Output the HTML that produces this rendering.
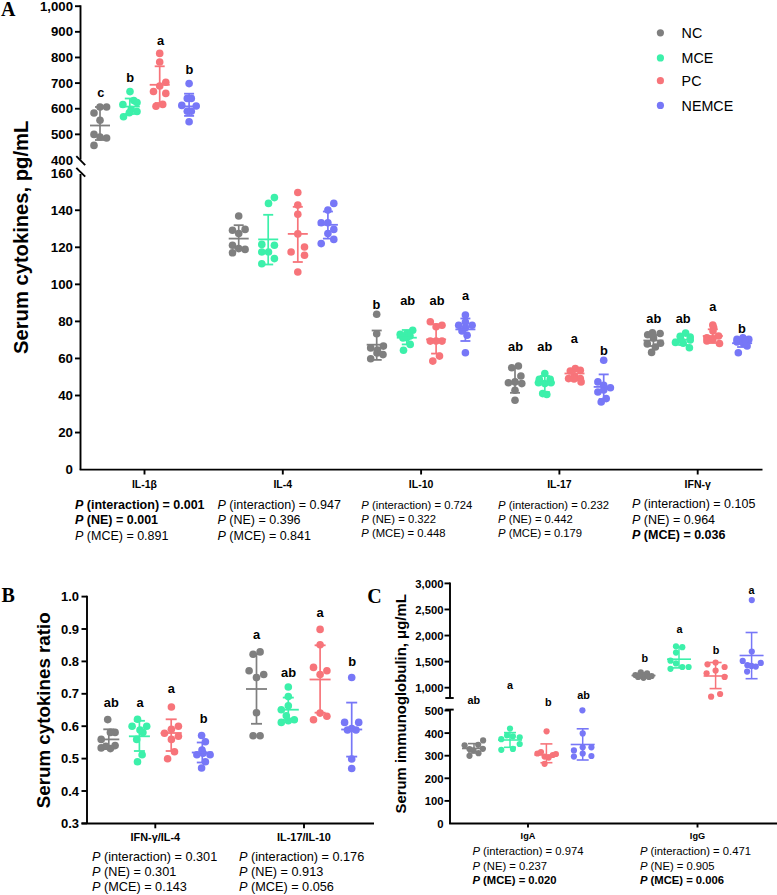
<!DOCTYPE html>
<html><head><meta charset="utf-8"><style>
html,body{margin:0;padding:0;background:#fff;width:777px;height:895px;overflow:hidden}
svg{display:block}
</style></head><body>
<svg width="777" height="895" viewBox="0 0 777 895">
<rect width="777" height="895" fill="#fff"/>
<text x="1" y="15.6" font-size="20" font-weight="bold" text-anchor="start" fill="#000" font-family='"Liberation Serif", serif' >A</text>
<line x1="80.5" y1="5.3" x2="80.5" y2="159.5" stroke="#000" stroke-width="1.9"/>
<line x1="75.0" y1="6.2" x2="80.5" y2="6.2" stroke="#000" stroke-width="1.9"/>
<text x="73.0" y="10.8" font-size="13.2" font-weight="bold" text-anchor="end" fill="#000" font-family='"Liberation Sans", sans-serif' >1,000</text>
<line x1="75.0" y1="31.83" x2="80.5" y2="31.83" stroke="#000" stroke-width="1.9"/>
<text x="73.0" y="36.43" font-size="13.2" font-weight="bold" text-anchor="end" fill="#000" font-family='"Liberation Sans", sans-serif' >900</text>
<line x1="75.0" y1="57.46" x2="80.5" y2="57.46" stroke="#000" stroke-width="1.9"/>
<text x="73.0" y="62.06" font-size="13.2" font-weight="bold" text-anchor="end" fill="#000" font-family='"Liberation Sans", sans-serif' >800</text>
<line x1="75.0" y1="83.09" x2="80.5" y2="83.09" stroke="#000" stroke-width="1.9"/>
<text x="73.0" y="87.69" font-size="13.2" font-weight="bold" text-anchor="end" fill="#000" font-family='"Liberation Sans", sans-serif' >700</text>
<line x1="75.0" y1="108.72" x2="80.5" y2="108.72" stroke="#000" stroke-width="1.9"/>
<text x="73.0" y="113.32" font-size="13.2" font-weight="bold" text-anchor="end" fill="#000" font-family='"Liberation Sans", sans-serif' >600</text>
<line x1="75.0" y1="134.35" x2="80.5" y2="134.35" stroke="#000" stroke-width="1.9"/>
<text x="73.0" y="138.95" font-size="13.2" font-weight="bold" text-anchor="end" fill="#000" font-family='"Liberation Sans", sans-serif' >500</text>
<text x="73.0" y="164.57999999999998" font-size="13.2" font-weight="bold" text-anchor="end" fill="#000" font-family='"Liberation Sans", sans-serif' >400</text>
<line x1="76.3" y1="156.2" x2="85.2" y2="165.1" stroke="#000" stroke-width="1.9"/>
<line x1="76.3" y1="167.8" x2="85.2" y2="176.7" stroke="#000" stroke-width="1.9"/>
<line x1="80.5" y1="174" x2="80.5" y2="469.8" stroke="#000" stroke-width="1.9"/>
<text x="73.0" y="474.0" font-size="13.3" font-weight="bold" text-anchor="end" fill="#000" font-family='"Liberation Sans", sans-serif' >0</text>
<line x1="75.0" y1="432.55" x2="80.5" y2="432.55" stroke="#000" stroke-width="1.9"/>
<text x="73.0" y="436.95" font-size="13.3" font-weight="bold" text-anchor="end" fill="#000" font-family='"Liberation Sans", sans-serif' >20</text>
<line x1="75.0" y1="395.5" x2="80.5" y2="395.5" stroke="#000" stroke-width="1.9"/>
<text x="73.0" y="399.9" font-size="13.3" font-weight="bold" text-anchor="end" fill="#000" font-family='"Liberation Sans", sans-serif' >40</text>
<line x1="75.0" y1="358.45000000000005" x2="80.5" y2="358.45000000000005" stroke="#000" stroke-width="1.9"/>
<text x="73.0" y="362.85" font-size="13.3" font-weight="bold" text-anchor="end" fill="#000" font-family='"Liberation Sans", sans-serif' >60</text>
<line x1="75.0" y1="321.40000000000003" x2="80.5" y2="321.40000000000003" stroke="#000" stroke-width="1.9"/>
<text x="73.0" y="325.8" font-size="13.3" font-weight="bold" text-anchor="end" fill="#000" font-family='"Liberation Sans", sans-serif' >80</text>
<line x1="75.0" y1="284.35" x2="80.5" y2="284.35" stroke="#000" stroke-width="1.9"/>
<text x="73.0" y="288.75" font-size="13.3" font-weight="bold" text-anchor="end" fill="#000" font-family='"Liberation Sans", sans-serif' >100</text>
<line x1="75.0" y1="247.3" x2="80.5" y2="247.3" stroke="#000" stroke-width="1.9"/>
<text x="73.0" y="251.70000000000002" font-size="13.3" font-weight="bold" text-anchor="end" fill="#000" font-family='"Liberation Sans", sans-serif' >120</text>
<line x1="75.0" y1="210.25" x2="80.5" y2="210.25" stroke="#000" stroke-width="1.9"/>
<text x="73.0" y="214.65" font-size="13.3" font-weight="bold" text-anchor="end" fill="#000" font-family='"Liberation Sans", sans-serif' >140</text>
<text x="73.0" y="177.60000000000005" font-size="13.3" font-weight="bold" text-anchor="end" fill="#000" font-family='"Liberation Sans", sans-serif' >160</text>
<line x1="79.65" y1="469.6" x2="762.5" y2="469.6" stroke="#000" stroke-width="1.9"/>
<text x="0" y="0" font-size="20.2" font-weight="bold" text-anchor="start" fill="#000" font-family='"Liberation Sans", sans-serif' transform="translate(27.5,354) rotate(-90)">Serum cytokines, pg/mL</text>
<line x1="144.5" y1="469" x2="144.5" y2="474.5" stroke="#000" stroke-width="1.9"/>
<text x="144.5" y="488" font-size="10.5" font-weight="bold" text-anchor="middle" fill="#000" font-family='"Liberation Sans", sans-serif' >IL-1β</text>
<line x1="282.8" y1="469" x2="282.8" y2="474.5" stroke="#000" stroke-width="1.9"/>
<text x="282.8" y="488" font-size="10.5" font-weight="bold" text-anchor="middle" fill="#000" font-family='"Liberation Sans", sans-serif' >IL-4</text>
<line x1="421.1" y1="469" x2="421.1" y2="474.5" stroke="#000" stroke-width="1.9"/>
<text x="421.1" y="488" font-size="10.5" font-weight="bold" text-anchor="middle" fill="#000" font-family='"Liberation Sans", sans-serif' >IL-10</text>
<line x1="559.4000000000001" y1="469" x2="559.4000000000001" y2="474.5" stroke="#000" stroke-width="1.9"/>
<text x="559.4000000000001" y="488" font-size="10.5" font-weight="bold" text-anchor="middle" fill="#000" font-family='"Liberation Sans", sans-serif' >IL-17</text>
<line x1="697.7" y1="469" x2="697.7" y2="474.5" stroke="#000" stroke-width="1.9"/>
<text x="697.7" y="488" font-size="10.5" font-weight="bold" text-anchor="middle" fill="#000" font-family='"Liberation Sans", sans-serif' >IFN-γ</text>
<circle cx="660.4" cy="32.8" r="3.6" fill="#7f7f7f"/>
<text x="681.6" y="38.0" font-size="14.3" font-weight="normal" text-anchor="start" fill="#000" font-family='"Liberation Sans", sans-serif' >NC</text>
<circle cx="660.4" cy="57.9" r="3.6" fill="#3cf0aa"/>
<text x="681.6" y="63.1" font-size="14.3" font-weight="normal" text-anchor="start" fill="#000" font-family='"Liberation Sans", sans-serif' >MCE</text>
<circle cx="660.4" cy="80.7" r="3.6" fill="#f7747a"/>
<text x="681.6" y="85.9" font-size="14.3" font-weight="normal" text-anchor="start" fill="#000" font-family='"Liberation Sans", sans-serif' >PC</text>
<circle cx="660.4" cy="105.4" r="3.6" fill="#7777f7"/>
<text x="681.6" y="110.60000000000001" font-size="14.3" font-weight="normal" text-anchor="start" fill="#000" font-family='"Liberation Sans", sans-serif' >NEMCE</text>
<text x="75" y="509.2" font-size="12.5" font-weight="bold" fill="#000" font-family='"Liberation Sans", sans-serif'><tspan font-style="italic">P</tspan> (interaction) = 0.001</text>
<text x="75" y="524.4" font-size="12.5" font-weight="bold" fill="#000" font-family='"Liberation Sans", sans-serif'><tspan font-style="italic">P</tspan> (NE) = 0.001</text>
<text x="75" y="539.6" font-size="12.5" font-weight="normal" fill="#000" font-family='"Liberation Sans", sans-serif'><tspan font-style="italic">P</tspan> (MCE) = 0.891</text>
<text x="217.5" y="508.8" font-size="12.5" font-weight="normal" fill="#000" font-family='"Liberation Sans", sans-serif'><tspan font-style="italic">P</tspan> (interaction) = 0.947</text>
<text x="217.5" y="524.25" font-size="12.5" font-weight="normal" fill="#000" font-family='"Liberation Sans", sans-serif'><tspan font-style="italic">P</tspan> (NE) = 0.396</text>
<text x="217.5" y="539.7" font-size="12.5" font-weight="normal" fill="#000" font-family='"Liberation Sans", sans-serif'><tspan font-style="italic">P</tspan> (MCE) = 0.841</text>
<text x="361.3" y="508.6" font-size="11.25" font-weight="normal" fill="#000" font-family='"Liberation Sans", sans-serif'><tspan font-style="italic">P</tspan> (interaction) = 0.724</text>
<text x="361.3" y="522.8000000000001" font-size="11.25" font-weight="normal" fill="#000" font-family='"Liberation Sans", sans-serif'><tspan font-style="italic">P</tspan> (NE) = 0.322</text>
<text x="361.3" y="537.0" font-size="11.25" font-weight="normal" fill="#000" font-family='"Liberation Sans", sans-serif'><tspan font-style="italic">P</tspan> (MCE) = 0.448</text>
<text x="498" y="508.6" font-size="11.25" font-weight="normal" fill="#000" font-family='"Liberation Sans", sans-serif'><tspan font-style="italic">P</tspan> (interaction) = 0.232</text>
<text x="498" y="522.8000000000001" font-size="11.25" font-weight="normal" fill="#000" font-family='"Liberation Sans", sans-serif'><tspan font-style="italic">P</tspan> (NE) = 0.442</text>
<text x="498" y="537.0" font-size="11.25" font-weight="normal" fill="#000" font-family='"Liberation Sans", sans-serif'><tspan font-style="italic">P</tspan> (MCE) = 0.179</text>
<text x="632" y="508.4" font-size="12.5" font-weight="normal" fill="#000" font-family='"Liberation Sans", sans-serif'><tspan font-style="italic">P</tspan> (interaction) = 0.105</text>
<text x="632" y="523.85" font-size="12.5" font-weight="normal" fill="#000" font-family='"Liberation Sans", sans-serif'><tspan font-style="italic">P</tspan> (NE) = 0.964</text>
<text x="632" y="539.3" font-size="12.5" font-weight="bold" fill="#000" font-family='"Liberation Sans", sans-serif'><tspan font-style="italic">P</tspan> (MCE) = 0.036</text>
<text x="1.4" y="601.5" font-size="20" font-weight="bold" text-anchor="start" fill="#000" font-family='"Liberation Serif", serif' >B</text>
<line x1="87" y1="595.7" x2="87" y2="823.8" stroke="#000" stroke-width="1.9"/>
<line x1="81.5" y1="596.6" x2="87" y2="596.6" stroke="#000" stroke-width="1.9"/>
<text x="79" y="601.2" font-size="13" font-weight="bold" text-anchor="end" fill="#000" font-family='"Liberation Sans", sans-serif' >1.0</text>
<line x1="81.5" y1="629.0" x2="87" y2="629.0" stroke="#000" stroke-width="1.9"/>
<text x="79" y="633.6" font-size="13" font-weight="bold" text-anchor="end" fill="#000" font-family='"Liberation Sans", sans-serif' >0.9</text>
<line x1="81.5" y1="661.4" x2="87" y2="661.4" stroke="#000" stroke-width="1.9"/>
<text x="79" y="666.0" font-size="13" font-weight="bold" text-anchor="end" fill="#000" font-family='"Liberation Sans", sans-serif' >0.8</text>
<line x1="81.5" y1="693.8" x2="87" y2="693.8" stroke="#000" stroke-width="1.9"/>
<text x="79" y="698.4" font-size="13" font-weight="bold" text-anchor="end" fill="#000" font-family='"Liberation Sans", sans-serif' >0.7</text>
<line x1="81.5" y1="726.2" x2="87" y2="726.2" stroke="#000" stroke-width="1.9"/>
<text x="79" y="730.8000000000001" font-size="13" font-weight="bold" text-anchor="end" fill="#000" font-family='"Liberation Sans", sans-serif' >0.6</text>
<line x1="81.5" y1="758.6" x2="87" y2="758.6" stroke="#000" stroke-width="1.9"/>
<text x="79" y="763.2" font-size="13" font-weight="bold" text-anchor="end" fill="#000" font-family='"Liberation Sans", sans-serif' >0.5</text>
<line x1="81.5" y1="791.0" x2="87" y2="791.0" stroke="#000" stroke-width="1.9"/>
<text x="79" y="795.6" font-size="13" font-weight="bold" text-anchor="end" fill="#000" font-family='"Liberation Sans", sans-serif' >0.4</text>
<line x1="81.5" y1="823.4" x2="87" y2="823.4" stroke="#000" stroke-width="1.9"/>
<text x="79" y="828.0" font-size="13" font-weight="bold" text-anchor="end" fill="#000" font-family='"Liberation Sans", sans-serif' >0.3</text>
<line x1="81.5" y1="823.5" x2="374" y2="823.5" stroke="#000" stroke-width="1.9"/>
<text x="0" y="0" font-size="18.75" font-weight="bold" text-anchor="start" fill="#000" font-family='"Liberation Sans", sans-serif' transform="translate(50.1,808.2) rotate(-90)">Serum cytokines ratio</text>
<line x1="155.3" y1="823.5" x2="155.3" y2="828.3" stroke="#000" stroke-width="1.9"/>
<text x="155.3" y="841" font-size="10.9" font-weight="bold" text-anchor="middle" fill="#000" font-family='"Liberation Sans", sans-serif' >IFN-γ/IL-4</text>
<line x1="304" y1="823.5" x2="304" y2="828.3" stroke="#000" stroke-width="1.9"/>
<text x="304" y="841" font-size="10.9" font-weight="bold" text-anchor="middle" fill="#000" font-family='"Liberation Sans", sans-serif' >IL-17/IL-10</text>
<text x="92" y="861.2" font-size="12.7" font-weight="normal" fill="#000" font-family='"Liberation Sans", sans-serif'><tspan font-style="italic">P</tspan> (interaction) = 0.301</text>
<text x="92" y="875.95" font-size="12.7" font-weight="normal" fill="#000" font-family='"Liberation Sans", sans-serif'><tspan font-style="italic">P</tspan> (NE) = 0.301</text>
<text x="92" y="890.7" font-size="12.7" font-weight="normal" fill="#000" font-family='"Liberation Sans", sans-serif'><tspan font-style="italic">P</tspan> (MCE) = 0.143</text>
<text x="239" y="861.2" font-size="12.7" font-weight="normal" fill="#000" font-family='"Liberation Sans", sans-serif'><tspan font-style="italic">P</tspan> (interaction) = 0.176</text>
<text x="239" y="875.95" font-size="12.7" font-weight="normal" fill="#000" font-family='"Liberation Sans", sans-serif'><tspan font-style="italic">P</tspan> (NE) = 0.913</text>
<text x="239" y="890.7" font-size="12.7" font-weight="normal" fill="#000" font-family='"Liberation Sans", sans-serif'><tspan font-style="italic">P</tspan> (MCE) = 0.056</text>
<text x="367.3" y="602.5" font-size="20" font-weight="bold" text-anchor="start" fill="#000" font-family='"Liberation Serif", serif' >C</text>
<line x1="450" y1="582.6" x2="450" y2="698" stroke="#000" stroke-width="1.9"/>
<line x1="445.3" y1="698" x2="453.7" y2="698" stroke="#000" stroke-width="1.9"/>
<line x1="444.5" y1="583.4" x2="450" y2="583.4" stroke="#000" stroke-width="1.9"/>
<text x="443.5" y="587.6999999999999" font-size="11.3" font-weight="bold" text-anchor="end" fill="#000" font-family='"Liberation Sans", sans-serif' >3,000</text>
<line x1="444.5" y1="609.47" x2="450" y2="609.47" stroke="#000" stroke-width="1.9"/>
<text x="443.5" y="613.77" font-size="11.3" font-weight="bold" text-anchor="end" fill="#000" font-family='"Liberation Sans", sans-serif' >2,500</text>
<line x1="444.5" y1="635.54" x2="450" y2="635.54" stroke="#000" stroke-width="1.9"/>
<text x="443.5" y="639.8399999999999" font-size="11.3" font-weight="bold" text-anchor="end" fill="#000" font-family='"Liberation Sans", sans-serif' >2,000</text>
<line x1="444.5" y1="661.61" x2="450" y2="661.61" stroke="#000" stroke-width="1.9"/>
<text x="443.5" y="665.91" font-size="11.3" font-weight="bold" text-anchor="end" fill="#000" font-family='"Liberation Sans", sans-serif' >1,500</text>
<line x1="444.5" y1="687.68" x2="450" y2="687.68" stroke="#000" stroke-width="1.9"/>
<text x="443.5" y="691.9799999999999" font-size="11.3" font-weight="bold" text-anchor="end" fill="#000" font-family='"Liberation Sans", sans-serif' >1,000</text>
<line x1="450" y1="709.6" x2="450" y2="823.9" stroke="#000" stroke-width="1.9"/>
<line x1="445.3" y1="709.6" x2="453.7" y2="709.6" stroke="#000" stroke-width="1.9"/>
<text x="443.5" y="827.9" font-size="11.3" font-weight="bold" text-anchor="end" fill="#000" font-family='"Liberation Sans", sans-serif' >0</text>
<line x1="444.5" y1="800.9" x2="450" y2="800.9" stroke="#000" stroke-width="1.9"/>
<text x="443.5" y="805.3" font-size="11.3" font-weight="bold" text-anchor="end" fill="#000" font-family='"Liberation Sans", sans-serif' >100</text>
<line x1="444.5" y1="778.3" x2="450" y2="778.3" stroke="#000" stroke-width="1.9"/>
<text x="443.5" y="782.6999999999999" font-size="11.3" font-weight="bold" text-anchor="end" fill="#000" font-family='"Liberation Sans", sans-serif' >200</text>
<line x1="444.5" y1="755.7" x2="450" y2="755.7" stroke="#000" stroke-width="1.9"/>
<text x="443.5" y="760.1" font-size="11.3" font-weight="bold" text-anchor="end" fill="#000" font-family='"Liberation Sans", sans-serif' >300</text>
<line x1="444.5" y1="733.1" x2="450" y2="733.1" stroke="#000" stroke-width="1.9"/>
<text x="443.5" y="737.5" font-size="11.3" font-weight="bold" text-anchor="end" fill="#000" font-family='"Liberation Sans", sans-serif' >400</text>
<line x1="444.5" y1="710.5" x2="450" y2="710.5" stroke="#000" stroke-width="1.9"/>
<text x="443.5" y="714.9" font-size="11.3" font-weight="bold" text-anchor="end" fill="#000" font-family='"Liberation Sans", sans-serif' >500</text>
<line x1="449.15" y1="823.5" x2="777" y2="823.5" stroke="#000" stroke-width="1.9"/>
<text x="0" y="0" font-size="14.9" font-weight="bold" text-anchor="start" fill="#000" font-family='"Liberation Sans", sans-serif' transform="translate(406.2,813.5) rotate(-90)">Serum immunoglobulin, μg/mL</text>
<line x1="528" y1="823.2" x2="528" y2="827.5" stroke="#000" stroke-width="1.9"/>
<text x="528" y="839" font-size="9.2" font-weight="bold" text-anchor="middle" fill="#000" font-family='"Liberation Sans", sans-serif' >IgA</text>
<line x1="697.5" y1="823.2" x2="697.5" y2="827.5" stroke="#000" stroke-width="1.9"/>
<text x="697.5" y="839" font-size="9.2" font-weight="bold" text-anchor="middle" fill="#000" font-family='"Liberation Sans", sans-serif' >IgG</text>
<text x="472.4" y="855.2" font-size="11.25" font-weight="normal" fill="#000" font-family='"Liberation Sans", sans-serif'><tspan font-style="italic">P</tspan> (interaction) = 0.974</text>
<text x="472.4" y="869.6500000000001" font-size="11.25" font-weight="normal" fill="#000" font-family='"Liberation Sans", sans-serif'><tspan font-style="italic">P</tspan> (NE) = 0.237</text>
<text x="472.4" y="884.1" font-size="11.25" font-weight="bold" fill="#000" font-family='"Liberation Sans", sans-serif'><tspan font-style="italic">P</tspan> (MCE) = 0.020</text>
<text x="639.9" y="855.2" font-size="11.25" font-weight="normal" fill="#000" font-family='"Liberation Sans", sans-serif'><tspan font-style="italic">P</tspan> (interaction) = 0.471</text>
<text x="639.9" y="869.6500000000001" font-size="11.25" font-weight="normal" fill="#000" font-family='"Liberation Sans", sans-serif'><tspan font-style="italic">P</tspan> (NE) = 0.905</text>
<text x="639.9" y="884.1" font-size="11.25" font-weight="bold" fill="#000" font-family='"Liberation Sans", sans-serif'><tspan font-style="italic">P</tspan> (MCE) = 0.006</text>
<circle cx="94" cy="113" r="3.8" fill="#7f7f7f"/>
<circle cx="100" cy="107" r="3.8" fill="#7f7f7f"/>
<circle cx="106.6" cy="107" r="3.8" fill="#7f7f7f"/>
<circle cx="100" cy="120.3" r="3.8" fill="#7f7f7f"/>
<circle cx="94" cy="134.4" r="3.8" fill="#7f7f7f"/>
<circle cx="100" cy="137" r="3.8" fill="#7f7f7f"/>
<circle cx="106.6" cy="138" r="3.8" fill="#7f7f7f"/>
<circle cx="94" cy="145.4" r="3.8" fill="#7f7f7f"/>
<line x1="100" y1="107" x2="100" y2="140" stroke="#7f7f7f" stroke-width="1.7"/>
<line x1="90" y1="125.5" x2="110" y2="125.5" stroke="#7f7f7f" stroke-width="1.8"/>
<line x1="95" y1="107" x2="105" y2="107" stroke="#7f7f7f" stroke-width="1.8"/>
<line x1="95" y1="140" x2="105" y2="140" stroke="#7f7f7f" stroke-width="1.8"/>
<circle cx="130" cy="91.6" r="3.8" fill="#3cf0aa"/>
<circle cx="122.9" cy="104.5" r="3.8" fill="#3cf0aa"/>
<circle cx="133.8" cy="100.6" r="3.8" fill="#3cf0aa"/>
<circle cx="137" cy="102.5" r="3.8" fill="#3cf0aa"/>
<circle cx="131.2" cy="109.6" r="3.8" fill="#3cf0aa"/>
<circle cx="137" cy="111.5" r="3.8" fill="#3cf0aa"/>
<circle cx="123.5" cy="116.7" r="3.8" fill="#3cf0aa"/>
<circle cx="129.3" cy="112.8" r="3.8" fill="#3cf0aa"/>
<line x1="129.8" y1="98.5" x2="129.8" y2="114" stroke="#3cf0aa" stroke-width="1.7"/>
<line x1="119.80000000000001" y1="106.6" x2="139.8" y2="106.6" stroke="#3cf0aa" stroke-width="1.8"/>
<line x1="124.80000000000001" y1="98.5" x2="134.8" y2="98.5" stroke="#3cf0aa" stroke-width="1.8"/>
<line x1="124.80000000000001" y1="114" x2="134.8" y2="114" stroke="#3cf0aa" stroke-width="1.8"/>
<circle cx="159.7" cy="53.4" r="3.8" fill="#f7747a"/>
<circle cx="159.7" cy="62" r="3.8" fill="#f7747a"/>
<circle cx="165.8" cy="82.3" r="3.8" fill="#f7747a"/>
<circle cx="159.7" cy="86" r="3.8" fill="#f7747a"/>
<circle cx="153.5" cy="91.5" r="3.8" fill="#f7747a"/>
<circle cx="165.8" cy="93.4" r="3.8" fill="#f7747a"/>
<circle cx="162.7" cy="104.4" r="3.8" fill="#f7747a"/>
<circle cx="156" cy="106.3" r="3.8" fill="#f7747a"/>
<line x1="159.7" y1="66.3" x2="159.7" y2="103" stroke="#f7747a" stroke-width="1.7"/>
<line x1="149.7" y1="84.8" x2="169.7" y2="84.8" stroke="#f7747a" stroke-width="1.8"/>
<line x1="154.7" y1="66.3" x2="164.7" y2="66.3" stroke="#f7747a" stroke-width="1.8"/>
<line x1="154.7" y1="103" x2="164.7" y2="103" stroke="#f7747a" stroke-width="1.8"/>
<circle cx="189.1" cy="83.6" r="3.8" fill="#7777f7"/>
<circle cx="187.3" cy="98.4" r="3.8" fill="#7777f7"/>
<circle cx="191.3" cy="98.4" r="3.8" fill="#7777f7"/>
<circle cx="181.8" cy="105.4" r="3.8" fill="#7777f7"/>
<circle cx="196.2" cy="106" r="3.8" fill="#7777f7"/>
<circle cx="187.3" cy="111.3" r="3.8" fill="#7777f7"/>
<circle cx="191.3" cy="111.3" r="3.8" fill="#7777f7"/>
<circle cx="189.1" cy="121.7" r="3.8" fill="#7777f7"/>
<line x1="189.1" y1="93.7" x2="189.1" y2="115.9" stroke="#7777f7" stroke-width="1.7"/>
<line x1="179.1" y1="106.4" x2="199.1" y2="106.4" stroke="#7777f7" stroke-width="1.8"/>
<line x1="184.1" y1="93.7" x2="194.1" y2="93.7" stroke="#7777f7" stroke-width="1.8"/>
<line x1="184.1" y1="115.9" x2="194.1" y2="115.9" stroke="#7777f7" stroke-width="1.8"/>
<text x="100.8" y="96.9" font-size="12.8" font-weight="bold" text-anchor="middle" fill="#000" font-family='"Liberation Sans", sans-serif' >c</text>
<text x="130.2" y="82.2" font-size="12.8" font-weight="bold" text-anchor="middle" fill="#000" font-family='"Liberation Sans", sans-serif' >b</text>
<text x="160.6" y="44.6" font-size="12.8" font-weight="bold" text-anchor="middle" fill="#000" font-family='"Liberation Sans", sans-serif' >a</text>
<text x="189.4" y="74.4" font-size="12.8" font-weight="bold" text-anchor="middle" fill="#000" font-family='"Liberation Sans", sans-serif' >b</text>
<circle cx="238.7" cy="216" r="3.8" fill="#7f7f7f"/>
<circle cx="232.5" cy="230.2" r="3.8" fill="#7f7f7f"/>
<circle cx="245.1" cy="229.4" r="3.8" fill="#7f7f7f"/>
<circle cx="238.7" cy="233.5" r="3.8" fill="#7f7f7f"/>
<circle cx="232.5" cy="245.3" r="3.8" fill="#7f7f7f"/>
<circle cx="245.1" cy="249.4" r="3.8" fill="#7f7f7f"/>
<circle cx="238.7" cy="248.6" r="3.8" fill="#7f7f7f"/>
<circle cx="232.5" cy="252.8" r="3.8" fill="#7f7f7f"/>
<line x1="238.7" y1="225.2" x2="238.7" y2="247.8" stroke="#7f7f7f" stroke-width="1.7"/>
<line x1="228.7" y1="238.6" x2="248.7" y2="238.6" stroke="#7f7f7f" stroke-width="1.8"/>
<line x1="233.7" y1="225.2" x2="243.7" y2="225.2" stroke="#7f7f7f" stroke-width="1.8"/>
<line x1="233.7" y1="247.8" x2="243.7" y2="247.8" stroke="#7f7f7f" stroke-width="1.8"/>
<circle cx="274.4" cy="197.6" r="3.8" fill="#3cf0aa"/>
<circle cx="268.5" cy="203.4" r="3.8" fill="#3cf0aa"/>
<circle cx="261.8" cy="244.4" r="3.8" fill="#3cf0aa"/>
<circle cx="274.4" cy="245.2" r="3.8" fill="#3cf0aa"/>
<circle cx="261.8" cy="252" r="3.8" fill="#3cf0aa"/>
<circle cx="268.5" cy="252" r="3.8" fill="#3cf0aa"/>
<circle cx="274.4" cy="258.6" r="3.8" fill="#3cf0aa"/>
<circle cx="261.8" cy="263.7" r="3.8" fill="#3cf0aa"/>
<line x1="268.2" y1="214.8" x2="268.2" y2="264.5" stroke="#3cf0aa" stroke-width="1.7"/>
<line x1="258.2" y1="239.4" x2="278.2" y2="239.4" stroke="#3cf0aa" stroke-width="1.8"/>
<line x1="263.2" y1="214.8" x2="273.2" y2="214.8" stroke="#3cf0aa" stroke-width="1.8"/>
<line x1="263.2" y1="264.5" x2="273.2" y2="264.5" stroke="#3cf0aa" stroke-width="1.8"/>
<circle cx="297.8" cy="192.5" r="3.8" fill="#f7747a"/>
<circle cx="297.8" cy="205.1" r="3.8" fill="#f7747a"/>
<circle cx="297.8" cy="214.3" r="3.8" fill="#f7747a"/>
<circle cx="297.8" cy="233.9" r="3.8" fill="#f7747a"/>
<circle cx="291.1" cy="252" r="3.8" fill="#f7747a"/>
<circle cx="304.5" cy="247" r="3.8" fill="#f7747a"/>
<circle cx="304.5" cy="255.3" r="3.8" fill="#f7747a"/>
<circle cx="297.8" cy="272" r="3.8" fill="#f7747a"/>
<line x1="297.8" y1="206.8" x2="297.8" y2="262" stroke="#f7747a" stroke-width="1.7"/>
<line x1="287.8" y1="233.9" x2="307.8" y2="233.9" stroke="#f7747a" stroke-width="1.8"/>
<line x1="292.8" y1="206.8" x2="302.8" y2="206.8" stroke="#f7747a" stroke-width="1.8"/>
<line x1="292.8" y1="262" x2="302.8" y2="262" stroke="#f7747a" stroke-width="1.8"/>
<circle cx="333.8" cy="203.4" r="3.8" fill="#7777f7"/>
<circle cx="327.9" cy="210.1" r="3.8" fill="#7777f7"/>
<circle cx="321.2" cy="222.7" r="3.8" fill="#7777f7"/>
<circle cx="327.9" cy="222.7" r="3.8" fill="#7777f7"/>
<circle cx="333.8" cy="229.4" r="3.8" fill="#7777f7"/>
<circle cx="327.9" cy="233.5" r="3.8" fill="#7777f7"/>
<circle cx="333.8" cy="239.4" r="3.8" fill="#7777f7"/>
<circle cx="321.2" cy="243.6" r="3.8" fill="#7777f7"/>
<line x1="327.9" y1="211.5" x2="327.9" y2="238.6" stroke="#7777f7" stroke-width="1.7"/>
<line x1="317.9" y1="224.8" x2="337.9" y2="224.8" stroke="#7777f7" stroke-width="1.8"/>
<line x1="322.9" y1="211.5" x2="332.9" y2="211.5" stroke="#7777f7" stroke-width="1.8"/>
<line x1="322.9" y1="238.6" x2="332.9" y2="238.6" stroke="#7777f7" stroke-width="1.8"/>
<circle cx="376.7" cy="314.2" r="3.8" fill="#7f7f7f"/>
<circle cx="376.7" cy="333.7" r="3.8" fill="#7f7f7f"/>
<circle cx="370.7" cy="347.9" r="3.8" fill="#7f7f7f"/>
<circle cx="383.4" cy="346.1" r="3.8" fill="#7f7f7f"/>
<circle cx="377" cy="353" r="3.8" fill="#7f7f7f"/>
<circle cx="383" cy="354.6" r="3.8" fill="#7f7f7f"/>
<circle cx="370.7" cy="358.8" r="3.8" fill="#7f7f7f"/>
<circle cx="377.5" cy="350" r="3.8" fill="#7f7f7f"/>
<line x1="376.7" y1="330.5" x2="376.7" y2="359.9" stroke="#7f7f7f" stroke-width="1.7"/>
<line x1="366.7" y1="344.7" x2="386.7" y2="344.7" stroke="#7f7f7f" stroke-width="1.8"/>
<line x1="371.7" y1="330.5" x2="381.7" y2="330.5" stroke="#7f7f7f" stroke-width="1.8"/>
<line x1="371.7" y1="359.9" x2="381.7" y2="359.9" stroke="#7f7f7f" stroke-width="1.8"/>
<circle cx="412.7" cy="330.2" r="3.8" fill="#3cf0aa"/>
<circle cx="406.8" cy="333.5" r="3.8" fill="#3cf0aa"/>
<circle cx="400.2" cy="334.4" r="3.8" fill="#3cf0aa"/>
<circle cx="406.8" cy="337.7" r="3.8" fill="#3cf0aa"/>
<circle cx="410.2" cy="344.4" r="3.8" fill="#3cf0aa"/>
<circle cx="403.5" cy="350.3" r="3.8" fill="#3cf0aa"/>
<circle cx="410" cy="336" r="3.8" fill="#3cf0aa"/>
<circle cx="403" cy="338" r="3.8" fill="#3cf0aa"/>
<line x1="406.8" y1="330" x2="406.8" y2="344.4" stroke="#3cf0aa" stroke-width="1.7"/>
<line x1="396.8" y1="337.7" x2="416.8" y2="337.7" stroke="#3cf0aa" stroke-width="1.8"/>
<line x1="401.8" y1="330" x2="411.8" y2="330" stroke="#3cf0aa" stroke-width="1.8"/>
<line x1="401.8" y1="344.4" x2="411.8" y2="344.4" stroke="#3cf0aa" stroke-width="1.8"/>
<circle cx="430.3" cy="321.8" r="3.8" fill="#f7747a"/>
<circle cx="442" cy="325.2" r="3.8" fill="#f7747a"/>
<circle cx="436.1" cy="326.8" r="3.8" fill="#f7747a"/>
<circle cx="430.3" cy="341.1" r="3.8" fill="#f7747a"/>
<circle cx="442" cy="341.1" r="3.8" fill="#f7747a"/>
<circle cx="436.1" cy="341" r="3.8" fill="#f7747a"/>
<circle cx="439.5" cy="356.1" r="3.8" fill="#f7747a"/>
<circle cx="432.8" cy="361.1" r="3.8" fill="#f7747a"/>
<line x1="436.1" y1="324.3" x2="436.1" y2="353.6" stroke="#f7747a" stroke-width="1.7"/>
<line x1="426.1" y1="339.4" x2="446.1" y2="339.4" stroke="#f7747a" stroke-width="1.8"/>
<line x1="431.1" y1="324.3" x2="441.1" y2="324.3" stroke="#f7747a" stroke-width="1.8"/>
<line x1="431.1" y1="353.6" x2="441.1" y2="353.6" stroke="#f7747a" stroke-width="1.8"/>
<circle cx="465.4" cy="315.1" r="3.8" fill="#7777f7"/>
<circle cx="458.7" cy="325.2" r="3.8" fill="#7777f7"/>
<circle cx="472.1" cy="325.2" r="3.8" fill="#7777f7"/>
<circle cx="465.4" cy="327.7" r="3.8" fill="#7777f7"/>
<circle cx="465.4" cy="322" r="3.8" fill="#7777f7"/>
<circle cx="467.1" cy="335.2" r="3.8" fill="#7777f7"/>
<circle cx="465.4" cy="352.8" r="3.8" fill="#7777f7"/>
<circle cx="462" cy="331" r="3.8" fill="#7777f7"/>
<line x1="465.4" y1="318.5" x2="465.4" y2="341" stroke="#7777f7" stroke-width="1.7"/>
<line x1="455.4" y1="329.4" x2="475.4" y2="329.4" stroke="#7777f7" stroke-width="1.8"/>
<line x1="460.4" y1="318.5" x2="470.4" y2="318.5" stroke="#7777f7" stroke-width="1.8"/>
<line x1="460.4" y1="341" x2="470.4" y2="341" stroke="#7777f7" stroke-width="1.8"/>
<text x="376.3" y="309.3" font-size="12.8" font-weight="bold" text-anchor="middle" fill="#000" font-family='"Liberation Sans", sans-serif' >b</text>
<text x="407.7" y="304.6" font-size="12.8" font-weight="bold" text-anchor="middle" fill="#000" font-family='"Liberation Sans", sans-serif' >ab</text>
<text x="437" y="304.6" font-size="12.8" font-weight="bold" text-anchor="middle" fill="#000" font-family='"Liberation Sans", sans-serif' >ab</text>
<text x="465.5" y="300" font-size="12.8" font-weight="bold" text-anchor="middle" fill="#000" font-family='"Liberation Sans", sans-serif' >a</text>
<circle cx="511.7" cy="367.7" r="3.8" fill="#7f7f7f"/>
<circle cx="518.4" cy="366" r="3.8" fill="#7f7f7f"/>
<circle cx="520.9" cy="376" r="3.8" fill="#7f7f7f"/>
<circle cx="508.4" cy="382.7" r="3.8" fill="#7f7f7f"/>
<circle cx="515" cy="381.9" r="3.8" fill="#7f7f7f"/>
<circle cx="521.8" cy="383.6" r="3.8" fill="#7f7f7f"/>
<circle cx="515" cy="390.3" r="3.8" fill="#7f7f7f"/>
<circle cx="515" cy="400.3" r="3.8" fill="#7f7f7f"/>
<line x1="515" y1="368" x2="515" y2="392.8" stroke="#7f7f7f" stroke-width="1.7"/>
<line x1="505" y1="381.9" x2="525" y2="381.9" stroke="#7f7f7f" stroke-width="1.8"/>
<line x1="510" y1="368" x2="520" y2="368" stroke="#7f7f7f" stroke-width="1.8"/>
<line x1="510" y1="392.8" x2="520" y2="392.8" stroke="#7f7f7f" stroke-width="1.8"/>
<circle cx="544.8" cy="373.5" r="3.8" fill="#3cf0aa"/>
<circle cx="539.3" cy="379.4" r="3.8" fill="#3cf0aa"/>
<circle cx="550.2" cy="379.4" r="3.8" fill="#3cf0aa"/>
<circle cx="544.8" cy="383.6" r="3.8" fill="#3cf0aa"/>
<circle cx="538.5" cy="382.7" r="3.8" fill="#3cf0aa"/>
<circle cx="551" cy="382.7" r="3.8" fill="#3cf0aa"/>
<circle cx="542.7" cy="393.6" r="3.8" fill="#3cf0aa"/>
<circle cx="546.8" cy="394.5" r="3.8" fill="#3cf0aa"/>
<line x1="544.8" y1="376" x2="544.8" y2="392" stroke="#3cf0aa" stroke-width="1.7"/>
<line x1="534.8" y1="382.7" x2="554.8" y2="382.7" stroke="#3cf0aa" stroke-width="1.8"/>
<line x1="539.8" y1="376" x2="549.8" y2="376" stroke="#3cf0aa" stroke-width="1.8"/>
<line x1="539.8" y1="392" x2="549.8" y2="392" stroke="#3cf0aa" stroke-width="1.8"/>
<circle cx="575.3" cy="368.5" r="3.8" fill="#f7747a"/>
<circle cx="570.3" cy="371" r="3.8" fill="#f7747a"/>
<circle cx="580.3" cy="370.2" r="3.8" fill="#f7747a"/>
<circle cx="568.6" cy="378.6" r="3.8" fill="#f7747a"/>
<circle cx="574.5" cy="376" r="3.8" fill="#f7747a"/>
<circle cx="580.3" cy="378.6" r="3.8" fill="#f7747a"/>
<circle cx="581.1" cy="381.9" r="3.8" fill="#f7747a"/>
<circle cx="574" cy="379" r="3.8" fill="#f7747a"/>
<line x1="574.5" y1="370" x2="574.5" y2="378" stroke="#f7747a" stroke-width="1.7"/>
<line x1="564.5" y1="373.5" x2="584.5" y2="373.5" stroke="#f7747a" stroke-width="1.8"/>
<line x1="569.5" y1="370" x2="579.5" y2="370" stroke="#f7747a" stroke-width="1.8"/>
<line x1="569.5" y1="378" x2="579.5" y2="378" stroke="#f7747a" stroke-width="1.8"/>
<circle cx="603.7" cy="360.2" r="3.8" fill="#7777f7"/>
<circle cx="597.9" cy="381.9" r="3.8" fill="#7777f7"/>
<circle cx="603.7" cy="385.3" r="3.8" fill="#7777f7"/>
<circle cx="610.4" cy="387.8" r="3.8" fill="#7777f7"/>
<circle cx="597.9" cy="392" r="3.8" fill="#7777f7"/>
<circle cx="606.2" cy="398.6" r="3.8" fill="#7777f7"/>
<circle cx="601.2" cy="402" r="3.8" fill="#7777f7"/>
<circle cx="603.7" cy="390" r="3.8" fill="#7777f7"/>
<line x1="603.7" y1="374.4" x2="603.7" y2="399" stroke="#7777f7" stroke-width="1.7"/>
<line x1="593.7" y1="386.9" x2="613.7" y2="386.9" stroke="#7777f7" stroke-width="1.8"/>
<line x1="598.7" y1="374.4" x2="608.7" y2="374.4" stroke="#7777f7" stroke-width="1.8"/>
<line x1="598.7" y1="399" x2="608.7" y2="399" stroke="#7777f7" stroke-width="1.8"/>
<text x="515.5" y="351" font-size="12.8" font-weight="bold" text-anchor="middle" fill="#000" font-family='"Liberation Sans", sans-serif' >ab</text>
<text x="544.8" y="351" font-size="12.8" font-weight="bold" text-anchor="middle" fill="#000" font-family='"Liberation Sans", sans-serif' >ab</text>
<text x="574.4" y="342.6" font-size="12.8" font-weight="bold" text-anchor="middle" fill="#000" font-family='"Liberation Sans", sans-serif' >a</text>
<text x="604" y="355.1" font-size="12.8" font-weight="bold" text-anchor="middle" fill="#000" font-family='"Liberation Sans", sans-serif' >b</text>
<circle cx="647.7" cy="334.7" r="3.8" fill="#7f7f7f"/>
<circle cx="652.4" cy="332.7" r="3.8" fill="#7f7f7f"/>
<circle cx="660.1" cy="333.5" r="3.8" fill="#7f7f7f"/>
<circle cx="647.3" cy="343.9" r="3.8" fill="#7f7f7f"/>
<circle cx="660.5" cy="343.2" r="3.8" fill="#7f7f7f"/>
<circle cx="655.4" cy="347" r="3.8" fill="#7f7f7f"/>
<circle cx="651.6" cy="352.4" r="3.8" fill="#7f7f7f"/>
<circle cx="653.5" cy="338" r="3.8" fill="#7f7f7f"/>
<line x1="653.4" y1="335" x2="653.4" y2="346" stroke="#7f7f7f" stroke-width="1.7"/>
<line x1="643.4" y1="340.5" x2="663.4" y2="340.5" stroke="#7f7f7f" stroke-width="1.8"/>
<line x1="648.4" y1="335" x2="658.4" y2="335" stroke="#7f7f7f" stroke-width="1.8"/>
<line x1="648.4" y1="346" x2="658.4" y2="346" stroke="#7f7f7f" stroke-width="1.8"/>
<circle cx="685.6" cy="333.1" r="3.8" fill="#3cf0aa"/>
<circle cx="680.2" cy="336.2" r="3.8" fill="#3cf0aa"/>
<circle cx="690.2" cy="337" r="3.8" fill="#3cf0aa"/>
<circle cx="675.5" cy="342.4" r="3.8" fill="#3cf0aa"/>
<circle cx="683.2" cy="343.2" r="3.8" fill="#3cf0aa"/>
<circle cx="690.2" cy="340" r="3.8" fill="#3cf0aa"/>
<circle cx="689.4" cy="347.8" r="3.8" fill="#3cf0aa"/>
<circle cx="681" cy="340" r="3.8" fill="#3cf0aa"/>
<line x1="683.2" y1="335" x2="683.2" y2="345" stroke="#3cf0aa" stroke-width="1.7"/>
<line x1="673.2" y1="339.7" x2="693.2" y2="339.7" stroke="#3cf0aa" stroke-width="1.8"/>
<line x1="678.2" y1="335" x2="688.2" y2="335" stroke="#3cf0aa" stroke-width="1.8"/>
<line x1="678.2" y1="345" x2="688.2" y2="345" stroke="#3cf0aa" stroke-width="1.8"/>
<circle cx="712.8" cy="325.1" r="3.8" fill="#f7747a"/>
<circle cx="713.6" cy="327.6" r="3.8" fill="#f7747a"/>
<circle cx="706.9" cy="337.7" r="3.8" fill="#f7747a"/>
<circle cx="718.6" cy="336" r="3.8" fill="#f7747a"/>
<circle cx="712.8" cy="339.4" r="3.8" fill="#f7747a"/>
<circle cx="706.9" cy="341" r="3.8" fill="#f7747a"/>
<circle cx="719.5" cy="343.5" r="3.8" fill="#f7747a"/>
<circle cx="713" cy="331" r="3.8" fill="#f7747a"/>
<line x1="712.8" y1="329.3" x2="712.8" y2="343" stroke="#f7747a" stroke-width="1.7"/>
<line x1="702.8" y1="336" x2="722.8" y2="336" stroke="#f7747a" stroke-width="1.8"/>
<line x1="707.8" y1="329.3" x2="717.8" y2="329.3" stroke="#f7747a" stroke-width="1.8"/>
<line x1="707.8" y1="343" x2="717.8" y2="343" stroke="#f7747a" stroke-width="1.8"/>
<circle cx="737" cy="339.4" r="3.8" fill="#7777f7"/>
<circle cx="742.9" cy="337.7" r="3.8" fill="#7777f7"/>
<circle cx="748.8" cy="339.4" r="3.8" fill="#7777f7"/>
<circle cx="737" cy="342" r="3.8" fill="#7777f7"/>
<circle cx="742.9" cy="342.7" r="3.8" fill="#7777f7"/>
<circle cx="747.1" cy="346" r="3.8" fill="#7777f7"/>
<circle cx="738.3" cy="352.8" r="3.8" fill="#7777f7"/>
<circle cx="745" cy="340" r="3.8" fill="#7777f7"/>
<line x1="742.1" y1="338" x2="742.1" y2="347" stroke="#7777f7" stroke-width="1.7"/>
<line x1="732.1" y1="343.2" x2="752.1" y2="343.2" stroke="#7777f7" stroke-width="1.8"/>
<line x1="737.1" y1="338" x2="747.1" y2="338" stroke="#7777f7" stroke-width="1.8"/>
<line x1="737.1" y1="347" x2="747.1" y2="347" stroke="#7777f7" stroke-width="1.8"/>
<text x="653.8" y="322.6" font-size="12.8" font-weight="bold" text-anchor="middle" fill="#000" font-family='"Liberation Sans", sans-serif' >ab</text>
<text x="683.1" y="322.6" font-size="12.8" font-weight="bold" text-anchor="middle" fill="#000" font-family='"Liberation Sans", sans-serif' >ab</text>
<text x="712.8" y="310.9" font-size="12.8" font-weight="bold" text-anchor="middle" fill="#000" font-family='"Liberation Sans", sans-serif' >a</text>
<text x="742" y="332.5" font-size="12.8" font-weight="bold" text-anchor="middle" fill="#000" font-family='"Liberation Sans", sans-serif' >b</text>
<circle cx="107.7" cy="719.6" r="3.8" fill="#7f7f7f"/>
<circle cx="115.1" cy="732.4" r="3.8" fill="#7f7f7f"/>
<circle cx="110.4" cy="732.4" r="3.8" fill="#7f7f7f"/>
<circle cx="101.2" cy="739.4" r="3.8" fill="#7f7f7f"/>
<circle cx="115.1" cy="745.6" r="3.8" fill="#7f7f7f"/>
<circle cx="101.2" cy="747.9" r="3.8" fill="#7f7f7f"/>
<circle cx="110.4" cy="748.6" r="3.8" fill="#7f7f7f"/>
<circle cx="105.8" cy="746.3" r="3.8" fill="#7f7f7f"/>
<line x1="108.8" y1="729.3" x2="108.8" y2="749" stroke="#7f7f7f" stroke-width="1.7"/>
<line x1="98.3" y1="739.4" x2="119.3" y2="739.4" stroke="#7f7f7f" stroke-width="1.8"/>
<line x1="103.3" y1="729.3" x2="114.3" y2="729.3" stroke="#7f7f7f" stroke-width="1.8"/>
<line x1="103.3" y1="749" x2="114.3" y2="749" stroke="#7f7f7f" stroke-width="1.8"/>
<circle cx="137.5" cy="719.3" r="3.8" fill="#3cf0aa"/>
<circle cx="132.1" cy="726.3" r="3.8" fill="#3cf0aa"/>
<circle cx="146.7" cy="726.3" r="3.8" fill="#3cf0aa"/>
<circle cx="142.9" cy="732.4" r="3.8" fill="#3cf0aa"/>
<circle cx="136.7" cy="739.4" r="3.8" fill="#3cf0aa"/>
<circle cx="142.1" cy="754.8" r="3.8" fill="#3cf0aa"/>
<circle cx="137.5" cy="761.8" r="3.8" fill="#3cf0aa"/>
<circle cx="140" cy="730" r="3.8" fill="#3cf0aa"/>
<line x1="139.4" y1="720.8" x2="139.4" y2="751" stroke="#3cf0aa" stroke-width="1.7"/>
<line x1="128.9" y1="736.3" x2="149.9" y2="736.3" stroke="#3cf0aa" stroke-width="1.8"/>
<line x1="133.9" y1="720.8" x2="144.9" y2="720.8" stroke="#3cf0aa" stroke-width="1.8"/>
<line x1="133.9" y1="751" x2="144.9" y2="751" stroke="#3cf0aa" stroke-width="1.8"/>
<circle cx="171.4" cy="707" r="3.8" fill="#f7747a"/>
<circle cx="178.4" cy="726.3" r="3.8" fill="#f7747a"/>
<circle cx="164.5" cy="733.2" r="3.8" fill="#f7747a"/>
<circle cx="171.4" cy="729.3" r="3.8" fill="#f7747a"/>
<circle cx="178.4" cy="736.3" r="3.8" fill="#f7747a"/>
<circle cx="171.4" cy="739.4" r="3.8" fill="#f7747a"/>
<circle cx="174.5" cy="751.7" r="3.8" fill="#f7747a"/>
<circle cx="167.6" cy="758.7" r="3.8" fill="#f7747a"/>
<line x1="171.2" y1="719.3" x2="171.2" y2="751" stroke="#f7747a" stroke-width="1.7"/>
<line x1="160.7" y1="733" x2="181.7" y2="733" stroke="#f7747a" stroke-width="1.8"/>
<line x1="165.7" y1="719.3" x2="176.7" y2="719.3" stroke="#f7747a" stroke-width="1.8"/>
<line x1="165.7" y1="751" x2="176.7" y2="751" stroke="#f7747a" stroke-width="1.8"/>
<circle cx="201.6" cy="735.5" r="3.8" fill="#7777f7"/>
<circle cx="205.4" cy="741.7" r="3.8" fill="#7777f7"/>
<circle cx="196.9" cy="754.8" r="3.8" fill="#7777f7"/>
<circle cx="210.1" cy="754.8" r="3.8" fill="#7777f7"/>
<circle cx="203.1" cy="753.3" r="3.8" fill="#7777f7"/>
<circle cx="205.4" cy="761.8" r="3.8" fill="#7777f7"/>
<circle cx="201.6" cy="768" r="3.8" fill="#7777f7"/>
<circle cx="202" cy="750" r="3.8" fill="#7777f7"/>
<line x1="202.3" y1="742.5" x2="202.3" y2="762.5" stroke="#7777f7" stroke-width="1.7"/>
<line x1="191.8" y1="752.5" x2="212.8" y2="752.5" stroke="#7777f7" stroke-width="1.8"/>
<line x1="196.8" y1="742.5" x2="207.8" y2="742.5" stroke="#7777f7" stroke-width="1.8"/>
<line x1="196.8" y1="762.5" x2="207.8" y2="762.5" stroke="#7777f7" stroke-width="1.8"/>
<text x="111.3" y="706.8" font-size="12.8" font-weight="bold" text-anchor="middle" fill="#000" font-family='"Liberation Sans", sans-serif' >ab</text>
<text x="140.1" y="706.8" font-size="12.8" font-weight="bold" text-anchor="middle" fill="#000" font-family='"Liberation Sans", sans-serif' >a</text>
<text x="171.2" y="693.4" font-size="12.8" font-weight="bold" text-anchor="middle" fill="#000" font-family='"Liberation Sans", sans-serif' >a</text>
<text x="203.7" y="722.7" font-size="12.8" font-weight="bold" text-anchor="middle" fill="#000" font-family='"Liberation Sans", sans-serif' >b</text>
<circle cx="253.1" cy="654.3" r="3.8" fill="#7f7f7f"/>
<circle cx="260.1" cy="651.9" r="3.8" fill="#7f7f7f"/>
<circle cx="249.1" cy="670.8" r="3.8" fill="#7f7f7f"/>
<circle cx="263.7" cy="674.5" r="3.8" fill="#7f7f7f"/>
<circle cx="256.5" cy="677.5" r="3.8" fill="#7f7f7f"/>
<circle cx="256.5" cy="712.7" r="3.8" fill="#7f7f7f"/>
<circle cx="253.1" cy="735.8" r="3.8" fill="#7f7f7f"/>
<circle cx="260.1" cy="735.8" r="3.8" fill="#7f7f7f"/>
<line x1="256.5" y1="654" x2="256.5" y2="723.8" stroke="#7f7f7f" stroke-width="1.7"/>
<line x1="246.0" y1="689" x2="267.0" y2="689" stroke="#7f7f7f" stroke-width="1.8"/>
<line x1="251.0" y1="654" x2="262.0" y2="654" stroke="#7f7f7f" stroke-width="1.8"/>
<line x1="251.0" y1="723.8" x2="262.0" y2="723.8" stroke="#7f7f7f" stroke-width="1.8"/>
<circle cx="288.3" cy="687" r="3.8" fill="#3cf0aa"/>
<circle cx="288.3" cy="696.6" r="3.8" fill="#3cf0aa"/>
<circle cx="281.3" cy="709.7" r="3.8" fill="#3cf0aa"/>
<circle cx="288.3" cy="705.7" r="3.8" fill="#3cf0aa"/>
<circle cx="286.3" cy="715.7" r="3.8" fill="#3cf0aa"/>
<circle cx="294.3" cy="719.7" r="3.8" fill="#3cf0aa"/>
<circle cx="281.3" cy="722.4" r="3.8" fill="#3cf0aa"/>
<circle cx="288.3" cy="720.7" r="3.8" fill="#3cf0aa"/>
<line x1="288.3" y1="697.6" x2="288.3" y2="720" stroke="#3cf0aa" stroke-width="1.7"/>
<line x1="277.8" y1="709.7" x2="298.8" y2="709.7" stroke="#3cf0aa" stroke-width="1.8"/>
<line x1="282.8" y1="697.6" x2="293.8" y2="697.6" stroke="#3cf0aa" stroke-width="1.8"/>
<line x1="282.8" y1="720" x2="293.8" y2="720" stroke="#3cf0aa" stroke-width="1.8"/>
<circle cx="320.1" cy="629.4" r="3.8" fill="#f7747a"/>
<circle cx="320.1" cy="644.7" r="3.8" fill="#f7747a"/>
<circle cx="313.5" cy="667.4" r="3.8" fill="#f7747a"/>
<circle cx="326.9" cy="670.8" r="3.8" fill="#f7747a"/>
<circle cx="320.1" cy="674.5" r="3.8" fill="#f7747a"/>
<circle cx="320.1" cy="713.1" r="3.8" fill="#f7747a"/>
<circle cx="313.5" cy="719.7" r="3.8" fill="#f7747a"/>
<circle cx="326.9" cy="716.3" r="3.8" fill="#f7747a"/>
<line x1="320.1" y1="645.3" x2="320.1" y2="712.7" stroke="#f7747a" stroke-width="1.7"/>
<line x1="309.6" y1="679.5" x2="330.6" y2="679.5" stroke="#f7747a" stroke-width="1.8"/>
<line x1="314.6" y1="645.3" x2="325.6" y2="645.3" stroke="#f7747a" stroke-width="1.8"/>
<line x1="314.6" y1="712.7" x2="325.6" y2="712.7" stroke="#f7747a" stroke-width="1.8"/>
<circle cx="351.7" cy="677.5" r="3.8" fill="#7777f7"/>
<circle cx="344.6" cy="722.4" r="3.8" fill="#7777f7"/>
<circle cx="358.7" cy="722.4" r="3.8" fill="#7777f7"/>
<circle cx="351.7" cy="728.5" r="3.8" fill="#7777f7"/>
<circle cx="347.5" cy="730" r="3.8" fill="#7777f7"/>
<circle cx="356" cy="730" r="3.8" fill="#7777f7"/>
<circle cx="351.7" cy="759" r="3.8" fill="#7777f7"/>
<circle cx="351.7" cy="768.5" r="3.8" fill="#7777f7"/>
<line x1="351.7" y1="702.6" x2="351.7" y2="756.6" stroke="#7777f7" stroke-width="1.7"/>
<line x1="341.2" y1="729.5" x2="362.2" y2="729.5" stroke="#7777f7" stroke-width="1.8"/>
<line x1="346.2" y1="702.6" x2="357.2" y2="702.6" stroke="#7777f7" stroke-width="1.8"/>
<line x1="346.2" y1="756.6" x2="357.2" y2="756.6" stroke="#7777f7" stroke-width="1.8"/>
<text x="256.5" y="639" font-size="12.9" font-weight="bold" text-anchor="middle" fill="#000" font-family='"Liberation Sans", sans-serif' >a</text>
<text x="288.6" y="676.5" font-size="12.9" font-weight="bold" text-anchor="middle" fill="#000" font-family='"Liberation Sans", sans-serif' >ab</text>
<text x="320" y="617" font-size="12.9" font-weight="bold" text-anchor="middle" fill="#000" font-family='"Liberation Sans", sans-serif' >a</text>
<text x="352.2" y="666.4" font-size="12.9" font-weight="bold" text-anchor="middle" fill="#000" font-family='"Liberation Sans", sans-serif' >b</text>
<circle cx="483.1" cy="740.4" r="3.1" fill="#7f7f7f"/>
<circle cx="464.6" cy="745.3" r="3.1" fill="#7f7f7f"/>
<circle cx="478.2" cy="744.8" r="3.1" fill="#7f7f7f"/>
<circle cx="482.8" cy="748.8" r="3.1" fill="#7f7f7f"/>
<circle cx="469.5" cy="749.1" r="3.1" fill="#7f7f7f"/>
<circle cx="478.5" cy="753.2" r="3.1" fill="#7f7f7f"/>
<circle cx="469.5" cy="755.8" r="3.1" fill="#7f7f7f"/>
<circle cx="473.5" cy="750.3" r="3.1" fill="#7f7f7f"/>
<line x1="474" y1="743.6" x2="474" y2="753" stroke="#7f7f7f" stroke-width="1.5"/>
<line x1="462" y1="748.5" x2="486" y2="748.5" stroke="#7f7f7f" stroke-width="1.6"/>
<line x1="468" y1="743.6" x2="480" y2="743.6" stroke="#7f7f7f" stroke-width="1.6"/>
<line x1="468" y1="753" x2="480" y2="753" stroke="#7f7f7f" stroke-width="1.6"/>
<circle cx="510" cy="728.6" r="3.1" fill="#3cf0aa"/>
<circle cx="501.3" cy="739.2" r="3.1" fill="#3cf0aa"/>
<circle cx="507.1" cy="735.4" r="3.1" fill="#3cf0aa"/>
<circle cx="512.9" cy="736.3" r="3.1" fill="#3cf0aa"/>
<circle cx="519.7" cy="737.3" r="3.1" fill="#3cf0aa"/>
<circle cx="519.7" cy="744" r="3.1" fill="#3cf0aa"/>
<circle cx="501.3" cy="749.8" r="3.1" fill="#3cf0aa"/>
<circle cx="512.9" cy="748.9" r="3.1" fill="#3cf0aa"/>
<line x1="510" y1="732.6" x2="510" y2="747.3" stroke="#3cf0aa" stroke-width="1.5"/>
<line x1="498" y1="740" x2="522" y2="740" stroke="#3cf0aa" stroke-width="1.6"/>
<line x1="504" y1="732.6" x2="516" y2="732.6" stroke="#3cf0aa" stroke-width="1.6"/>
<line x1="504" y1="747.3" x2="516" y2="747.3" stroke="#3cf0aa" stroke-width="1.6"/>
<circle cx="546.6" cy="731.3" r="3.1" fill="#f7747a"/>
<circle cx="537.4" cy="753.5" r="3.1" fill="#f7747a"/>
<circle cx="541" cy="752" r="3.1" fill="#f7747a"/>
<circle cx="544.6" cy="756.6" r="3.1" fill="#f7747a"/>
<circle cx="548.7" cy="757.6" r="3.1" fill="#f7747a"/>
<circle cx="552.8" cy="755" r="3.1" fill="#f7747a"/>
<circle cx="555.9" cy="754" r="3.1" fill="#f7747a"/>
<circle cx="544.6" cy="763.8" r="3.1" fill="#f7747a"/>
<line x1="546.4" y1="743.9" x2="546.4" y2="762.7" stroke="#f7747a" stroke-width="1.5"/>
<line x1="534.4" y1="755" x2="558.4" y2="755" stroke="#f7747a" stroke-width="1.6"/>
<line x1="540.4" y1="743.9" x2="552.4" y2="743.9" stroke="#f7747a" stroke-width="1.6"/>
<line x1="540.4" y1="762.7" x2="552.4" y2="762.7" stroke="#f7747a" stroke-width="1.6"/>
<circle cx="582.4" cy="710.3" r="3.1" fill="#7777f7"/>
<circle cx="582.7" cy="733.4" r="3.1" fill="#7777f7"/>
<circle cx="582.7" cy="747.3" r="3.1" fill="#7777f7"/>
<circle cx="573.9" cy="750.4" r="3.1" fill="#7777f7"/>
<circle cx="591.4" cy="747.3" r="3.1" fill="#7777f7"/>
<circle cx="582.7" cy="753.5" r="3.1" fill="#7777f7"/>
<circle cx="573.9" cy="756.6" r="3.1" fill="#7777f7"/>
<circle cx="591.4" cy="756" r="3.1" fill="#7777f7"/>
<line x1="582.7" y1="728.8" x2="582.7" y2="760" stroke="#7777f7" stroke-width="1.5"/>
<line x1="570.7" y1="744.5" x2="594.7" y2="744.5" stroke="#7777f7" stroke-width="1.6"/>
<line x1="576.7" y1="728.8" x2="588.7" y2="728.8" stroke="#7777f7" stroke-width="1.6"/>
<line x1="576.7" y1="760" x2="588.7" y2="760" stroke="#7777f7" stroke-width="1.6"/>
<text x="473.8" y="703.8" font-size="10.8" font-weight="bold" text-anchor="middle" fill="#000" font-family='"Liberation Sans", sans-serif' >ab</text>
<text x="510" y="689.3" font-size="10.8" font-weight="bold" text-anchor="middle" fill="#000" font-family='"Liberation Sans", sans-serif' >a</text>
<text x="548.2" y="705.7" font-size="10.8" font-weight="bold" text-anchor="middle" fill="#000" font-family='"Liberation Sans", sans-serif' >b</text>
<text x="583.5" y="699" font-size="10.8" font-weight="bold" text-anchor="middle" fill="#000" font-family='"Liberation Sans", sans-serif' >ab</text>
<circle cx="635.4" cy="675.1" r="3.1" fill="#7f7f7f"/>
<circle cx="640.8" cy="672.4" r="3.1" fill="#7f7f7f"/>
<circle cx="647.1" cy="673.3" r="3.1" fill="#7f7f7f"/>
<circle cx="651.6" cy="676" r="3.1" fill="#7f7f7f"/>
<circle cx="643.5" cy="677.8" r="3.1" fill="#7f7f7f"/>
<circle cx="638.1" cy="676.9" r="3.1" fill="#7f7f7f"/>
<circle cx="645" cy="675" r="3.1" fill="#7f7f7f"/>
<circle cx="649" cy="677" r="3.1" fill="#7f7f7f"/>
<line x1="643.5" y1="673" x2="643.5" y2="678" stroke="#7f7f7f" stroke-width="1.5"/>
<line x1="631.5" y1="675.5" x2="655.5" y2="675.5" stroke="#7f7f7f" stroke-width="1.6"/>
<line x1="637.5" y1="673" x2="649.5" y2="673" stroke="#7f7f7f" stroke-width="1.6"/>
<line x1="637.5" y1="678" x2="649.5" y2="678" stroke="#7f7f7f" stroke-width="1.6"/>
<circle cx="676" cy="646.3" r="3.1" fill="#3cf0aa"/>
<circle cx="682.3" cy="647.2" r="3.1" fill="#3cf0aa"/>
<circle cx="676" cy="652.6" r="3.1" fill="#3cf0aa"/>
<circle cx="670.5" cy="660.7" r="3.1" fill="#3cf0aa"/>
<circle cx="676" cy="663.4" r="3.1" fill="#3cf0aa"/>
<circle cx="670.5" cy="668.8" r="3.1" fill="#3cf0aa"/>
<circle cx="682.3" cy="667" r="3.1" fill="#3cf0aa"/>
<circle cx="688.6" cy="667" r="3.1" fill="#3cf0aa"/>
<line x1="679" y1="647" x2="679" y2="667.9" stroke="#3cf0aa" stroke-width="1.5"/>
<line x1="667" y1="659.2" x2="691" y2="659.2" stroke="#3cf0aa" stroke-width="1.6"/>
<line x1="673" y1="647" x2="685" y2="647" stroke="#3cf0aa" stroke-width="1.6"/>
<line x1="673" y1="667.9" x2="685" y2="667.9" stroke="#3cf0aa" stroke-width="1.6"/>
<circle cx="707.5" cy="664.3" r="3.1" fill="#f7747a"/>
<circle cx="715.6" cy="662.5" r="3.1" fill="#f7747a"/>
<circle cx="724.6" cy="667" r="3.1" fill="#f7747a"/>
<circle cx="715.6" cy="670.6" r="3.1" fill="#f7747a"/>
<circle cx="706.6" cy="673.3" r="3.1" fill="#f7747a"/>
<circle cx="724.6" cy="676.9" r="3.1" fill="#f7747a"/>
<circle cx="711.1" cy="696.7" r="3.1" fill="#f7747a"/>
<circle cx="720.1" cy="694" r="3.1" fill="#f7747a"/>
<line x1="715.6" y1="662.5" x2="715.6" y2="688.6" stroke="#f7747a" stroke-width="1.5"/>
<line x1="703.6" y1="676" x2="727.6" y2="676" stroke="#f7747a" stroke-width="1.6"/>
<line x1="709.6" y1="662.5" x2="721.6" y2="662.5" stroke="#f7747a" stroke-width="1.6"/>
<line x1="709.6" y1="688.6" x2="721.6" y2="688.6" stroke="#f7747a" stroke-width="1.6"/>
<circle cx="751.8" cy="600.1" r="3.1" fill="#7777f7"/>
<circle cx="751.8" cy="651.5" r="3.1" fill="#7777f7"/>
<circle cx="742.7" cy="660.9" r="3.1" fill="#7777f7"/>
<circle cx="747.4" cy="665.2" r="3.1" fill="#7777f7"/>
<circle cx="751.4" cy="665.9" r="3.1" fill="#7777f7"/>
<circle cx="755.8" cy="666.6" r="3.1" fill="#7777f7"/>
<circle cx="760.8" cy="662.9" r="3.1" fill="#7777f7"/>
<circle cx="747.1" cy="671.6" r="3.1" fill="#7777f7"/>
<line x1="751.6" y1="632.5" x2="751.6" y2="678.7" stroke="#7777f7" stroke-width="1.5"/>
<line x1="739.6" y1="655.5" x2="763.6" y2="655.5" stroke="#7777f7" stroke-width="1.6"/>
<line x1="745.6" y1="632.5" x2="757.6" y2="632.5" stroke="#7777f7" stroke-width="1.6"/>
<line x1="745.6" y1="678.7" x2="757.6" y2="678.7" stroke="#7777f7" stroke-width="1.6"/>
<text x="644.8" y="661.6" font-size="10.8" font-weight="bold" text-anchor="middle" fill="#000" font-family='"Liberation Sans", sans-serif' >b</text>
<text x="679.5" y="632.7" font-size="10.8" font-weight="bold" text-anchor="middle" fill="#000" font-family='"Liberation Sans", sans-serif' >a</text>
<text x="716" y="653.5" font-size="10.8" font-weight="bold" text-anchor="middle" fill="#000" font-family='"Liberation Sans", sans-serif' >b</text>
<text x="751.6" y="594" font-size="10.8" font-weight="bold" text-anchor="middle" fill="#000" font-family='"Liberation Sans", sans-serif' >a</text>
</svg></body></html>
